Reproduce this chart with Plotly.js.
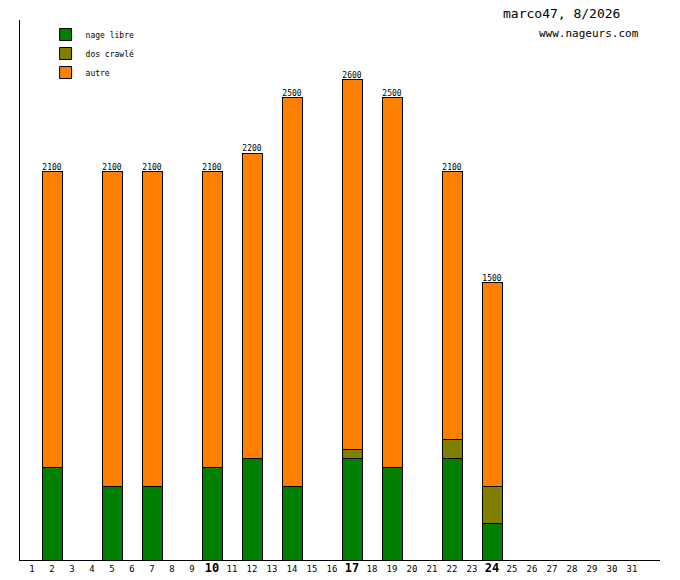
<!DOCTYPE html>
<html>
<head>
<meta charset="utf-8">
<script src="https://cdn.plot.ly/plotly-3.0.1.min.js"></script>
<style>body{margin:0;background:#fff}#chart{width:680px;height:580px}</style>
</head>
<body>
<div id="chart"></div>
<script>
const days = [2, 5, 7, 10, 12, 14, 17, 19, 22, 24];
const nageLibre = [500, 400, 400, 500, 550, 400, 550, 500, 550, 200];
const dosCrawle = [0, 0, 0, 0, 0, 0, 50, 0, 100, 200];
const totals = [2100, 2100, 2100, 2100, 2200, 2500, 2600, 2500, 2100, 1500];
const autre = totals.map((t, i) => t - nageLibre[i] - dosCrawle[i]);
const boldDays = [10, 17, 24];
const allDays = Array.from({length: 31}, (_, i) => i + 1);
const tickText = allDays.map(d => boldDays.includes(d) ? '<b><span style="font-size:12px">' + d + '</span></b>' : String(d));

const FONT = 'DejaVu Sans Mono, monospace';
const line = { color: '#000', width: 1 };

Plotly.newPlot('chart', [
  { type: 'bar', name: 'nage libre', x: days, y: nageLibre, width: 1, marker: { color: '#008000', line } },
  { type: 'bar', name: 'dos crawlé', x: days, y: dosCrawle, width: 1, marker: { color: '#808000', line } },
  { type: 'bar', name: 'autre', x: days, y: autre, width: 1, marker: { color: '#ff8000', line } },
  { type: 'scatter', mode: 'text', x: days, y: totals, text: totals.map(String), textposition: 'top center',
    textfont: { family: FONT, size: 8, color: '#000' }, showlegend: false, hoverinfo: 'skip', cliponaxis: false }
], {
  width: 680, height: 580,
  paper_bgcolor: '#fff', plot_bgcolor: '#fff',
  barmode: 'stack',
  font: { family: FONT, size: 9, color: '#000' },
  margin: { l: 20, r: 20, t: 20, b: 20 },
  xaxis: { range: [0.4, 32.4], tickvals: allDays, ticktext: tickText, showgrid: false, zeroline: false,
           showline: true, linecolor: '#000', ticks: '', tickfont: { family: FONT, size: 9 }, fixedrange: true },
  yaxis: { range: [0, 2922], showgrid: false, zeroline: false, showline: true, linecolor: '#000',
           showticklabels: false, ticks: '' },
  showlegend: true,
  legend: { x: 0.04, y: 1.0, xanchor: 'left', yanchor: 'top', traceorder: 'normal',
            font: { family: FONT, size: 8 }, bgcolor: 'rgba(0,0,0,0)', tracegroupgap: 4 },
  annotations: [
    { xref: 'paper', yref: 'paper', x: 0.94, y: 1.03, xanchor: 'right', yanchor: 'top', showarrow: false,
      text: 'marco47, 8/2026', font: { family: FONT, size: 13 } },
    { xref: 'paper', yref: 'paper', x: 0.97, y: 0.99, xanchor: 'right', yanchor: 'top', showarrow: false,
      text: 'www.nageurs.com', font: { family: FONT, size: 11 } }
  ]
}, { displayModeBar: false });
</script>
</body>
</html>
